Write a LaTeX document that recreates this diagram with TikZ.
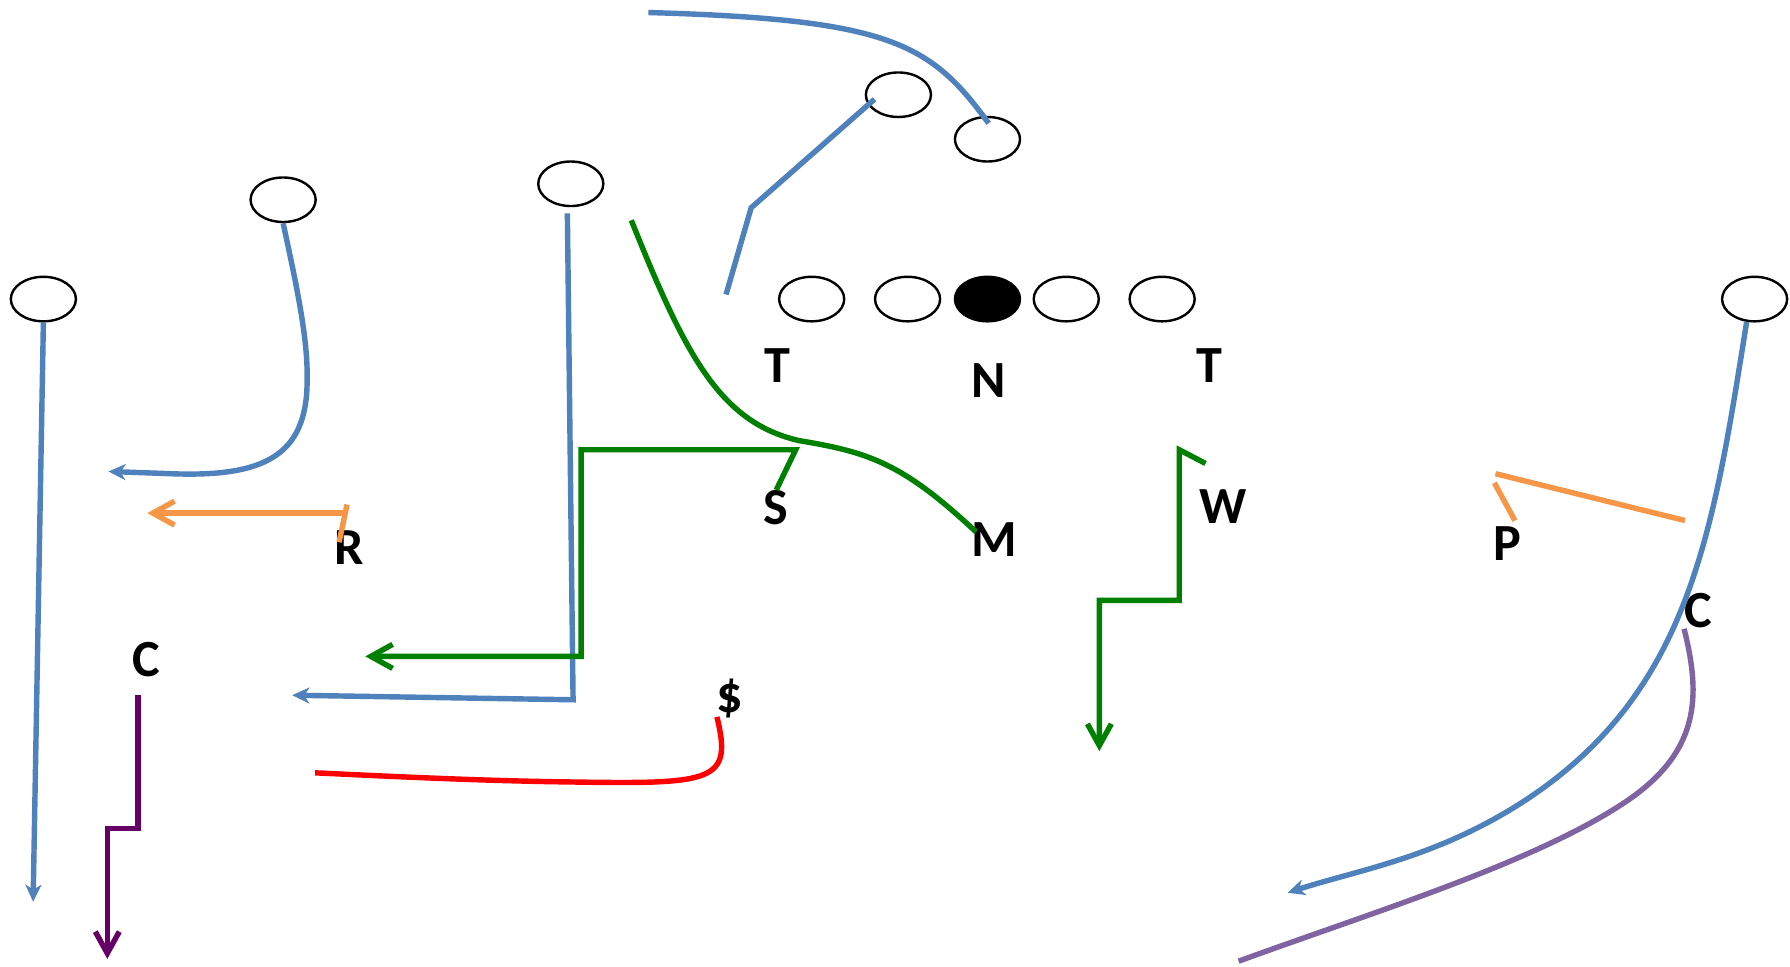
\documentclass[tikz,border=0pt]{standalone}
\usepackage{fontspec}
\setmainfont{Carlito}
\usepackage{xcolor}
\usepackage{tikz}
\usetikzlibrary{arrows.meta,shapes.geometric}
\definecolor{PLBlue}{HTML}{4F81BD}
\definecolor{PLGreen}{HTML}{008000}
\definecolor{PLOrange}{HTML}{F79646}
\definecolor{PLRed}{HTML}{FF0000}
\definecolor{PLPlum}{HTML}{660066}
\definecolor{PLLilac}{HTML}{8064A2}

\begin{document}
\begin{tikzpicture}[x=1cm,y=1cm,
  player/.style={draw=black,line width=.6pt,ellipse,minimum width=.57cm,minimum height=.39cm,inner sep=0pt},
  tag/.style={font=\fontsize{13}{15}\selectfont\bfseries,inner sep=0pt},
  route/.style={line width=1.35pt},
  runtip/.style={-{Stealth[length=1.5mm,width=1.4mm,inset=.45mm]}},
  droptip/.style={-{Straight Barb[length=1.9mm,width=2.1mm]}}]
\path[use as bounding box] (0,0) rectangle (15.68,8.47);
\fill[white] (0,0) rectangle (15.68,8.47);
\node[player] (wrL) at (0.38,5.85) {};
\node[player] (wrB) at (2.48,6.72) {};
\node[player] (wrC) at (5.00,6.86) {};
\node[player] (qb) at (7.87,7.64) {};
\node[player] (rb) at (8.65,7.25) {};
\node[player] (lt) at (7.11,5.85) {};
\node[player] (lg) at (7.95,5.85) {};
\node[player,fill=black] (ctr) at (8.65,5.85) {};
\node[player] (rg) at (9.34,5.85) {};
\node[player] (rt) at (10.18,5.85) {};
\node[player] (wrR) at (15.37,5.85) {};
\node[tag] (dtL) at (6.81,5.27) {T};
\node[tag] (nose) at (8.66,5.14) {N};
\node[tag] (dtR) at (10.59,5.27) {T};
\node[tag] (sam) at (6.80,4.02) {S};
\node[tag] (mike) at (8.71,3.74) {M};
\node[tag] (will) at (10.71,4.03) {W};
\node[tag] (rover) at (3.06,3.67) {R};
\node[tag] (pirate) at (13.20,3.71) {P};
\node[tag] (cbR) at (14.88,3.12) {C};
\node[tag] (cbL) at (1.28,2.69) {C};
\node[tag] (money) at (6.39,2.35) {\$};
\draw[route,PLBlue,runtip] (wrL.south) -- (0.29,0.57);
\draw[route,PLBlue,runtip] (wrB.south) .. controls (2.62,5.87) and (2.70,5.47) .. (2.69,5.11) .. controls (2.68,4.47) and (2.30,4.29) .. (1.50,4.32) -- (0.95,4.34);
\draw[route,PLBlue,runtip] (4.97,6.60) -- (5.02,2.34) -- (2.56,2.38);
\draw[route,PLBlue] (7.66,7.60) -- (6.58,6.65) -- (6.36,5.89);
\draw[route,PLBlue] (5.68,8.36) .. controls (7.80,8.30) and (8.15,8.09) .. (8.66,7.39);
\draw[route,PLBlue,runtip] (15.30,5.65) .. controls (15.00,3.77) and (14.80,2.37) .. (13.30,1.42) .. controls (12.55,0.95) and (11.90,0.85) .. (11.28,0.65);
\draw[route,PLGreen] (5.53,6.54) .. controls (6.00,5.37) and (6.30,4.77) .. (7.00,4.61) .. controls (7.60,4.51) and (7.90,4.42) .. (8.55,3.81);
\draw[route,PLGreen,droptip] (sam.north) -- (6.97,4.53) -- (5.09,4.53) -- (5.09,2.72) -- (3.20,2.72);
\draw[route,PLGreen,droptip] (10.56,4.41) -- (10.33,4.53) -- (10.33,3.21) -- (9.63,3.21) -- (9.63,1.89);
\draw[route,PLOrange,droptip] (3.04,3.975) -- (1.29,3.975);
\draw[route,PLOrange] (3.04,4.05) -- (2.97,3.72);
\draw[route,PLOrange] (14.76,3.91) -- (13.10,4.32);
\draw[route,PLOrange] (13.09,4.24) -- (13.27,3.91);
\draw[route,PLPlum,droptip] (1.21,2.38) -- (1.21,1.21) -- (0.94,1.21) -- (0.94,0.07);
\draw[route,PLLilac] (cbR.south west) .. controls (14.90,2.37) and (14.90,1.87) .. (14.20,1.42) .. controls (13.40,0.90) and (12.00,0.47) .. (10.85,0.05);
\draw[route,PLRed] (6.28,2.19) .. controls (6.42,1.62) and (6.25,1.60) .. (5.00,1.62) .. controls (4.20,1.63) and (3.40,1.67) .. (2.76,1.70);
\end{tikzpicture}
\end{document}
